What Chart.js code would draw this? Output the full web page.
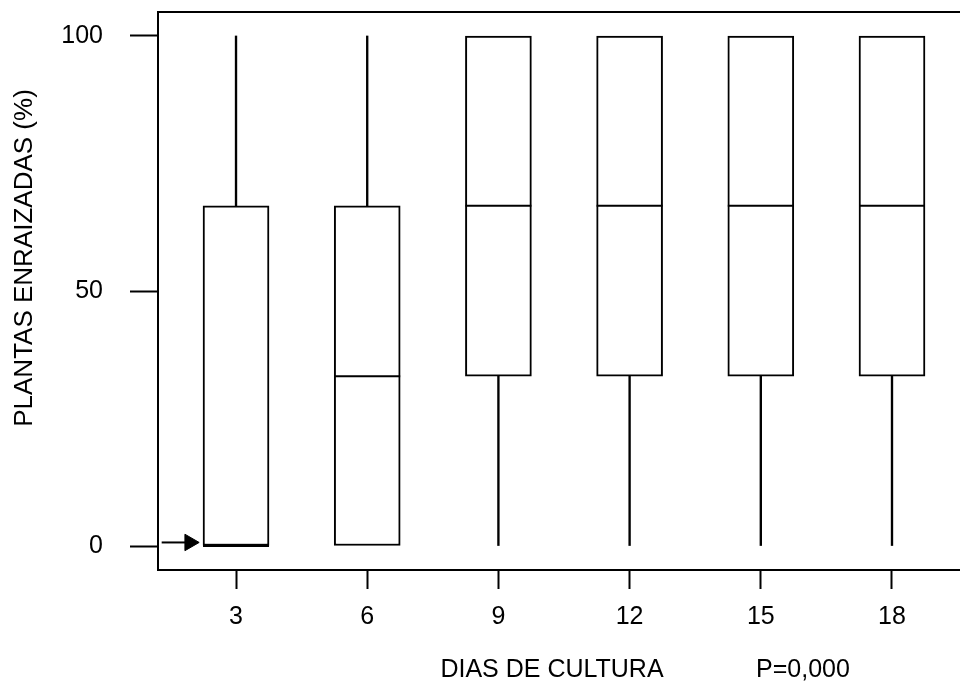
<!DOCTYPE html>
<html>
<head>
<meta charset="utf-8">
<script src="https://cdn.jsdelivr.net/npm/chart.js@4/dist/chart.umd.min.js"></script>
<style>
  body { margin: 0; background: #fff; }
  #wrap { width: 960px; height: 684px; }
</style>
</head>
<body>
<div id="wrap"><canvas id="chart"></canvas></div>
<script>
// box plot values
const days = [3, 6, 9, 12, 15, 18]
const minVals = [0, 0, 0, 0, 0, 0]
const q1Vals = [0, 0, 33.3, 33.3, 33.3, 33.3]
const medianVals = [0, 33.3, 66.7, 66.7, 66.7, 66.7]
const q3Vals = [66.7, 66.7, 100, 100, 100, 100]
const maxVals = [100, 100, 100, 100, 100, 100]

const yTicks = [0, 50, 100]
const xTicks = days

// little arrow pointing at the first box median
const arrowX = [1.3, 1.94]
const arrowY = [0.7, 0.7]

const xTitle = 'DIAS DE CULTURA'
const pText = 'P=0,000'
const yTitle = 'PLANTAS ENRAIZADAS (%)'

const FONT = { family: 'Liberation Sans, Arial, sans-serif', size: 25 }
const TITLE_FONT_SIZE = 26

const boxes = days.map((d, i) => ({ x: d, y: [q1Vals[i], q3Vals[i]] }))
const upperWhiskers = days.map((d, i) => ({ x: d, y: q3Vals[i] < maxVals[i] ? [q3Vals[i], maxVals[i]] : null }))
const lowerWhiskers = days.map((d, i) => ({ x: d, y: minVals[i] < q1Vals[i] ? [minVals[i], q1Vals[i]] : null }))
const medians = days.map((d, i) => ({ x: d, y: medianVals[i] }))
const arrow = arrowX.map((x, i) => ({ x, y: arrowY[i] }))

// no label padding, so the plot area fills the canvas like the original
const noPad = scale => {
  scale.paddingTop = 0
  scale.paddingBottom = 0
  scale.paddingLeft = 0
  scale.paddingRight = 0
}

// axis titles sit off-centre in the original, so they are placed by hand
const titles = {
  id: 'titles',
  afterDraw (chart) {
    const { ctx, chartArea } = chart
    ctx.save()
    ctx.fillStyle = '#000'
    ctx.textAlign = 'center'
    ctx.textBaseline = 'middle'
    ctx.font = FONT.size + 'px ' + FONT.family
    ctx.fillText(xTitle, chartArea.left + 394, 670)
    ctx.fillText(pText, chartArea.left + 645, 670)
    ctx.font = TITLE_FONT_SIZE + 'px ' + FONT.family
    ctx.translate(25, 258)
    ctx.rotate(-Math.PI / 2)
    ctx.fillText(yTitle, 0, 0)
    ctx.restore()
  }
}

const ctx = document.getElementById('chart')
new Chart(ctx, {
  type: 'bar',
  data: {
    datasets: [
      {
        label: 'whisker up',
        data: upperWhiskers,
        backgroundColor: '#000',
        borderWidth: 0,
        barThickness: 1.7,
        grouped: false,
        order: 3,
        xAxisID: 'x',
        yAxisID: 'y'
      },
      {
        label: 'whisker down',
        data: lowerWhiskers,
        backgroundColor: '#000',
        borderWidth: 0,
        barThickness: 1.7,
        grouped: false,
        order: 3,
        xAxisID: 'x',
        yAxisID: 'y'
      },
      {
        label: 'box',
        data: boxes,
        backgroundColor: '#fff',
        borderColor: '#000',
        borderWidth: 2,
        borderSkipped: false,
        barThickness: 66,
        grouped: false,
        order: 2,
        xAxisID: 'x',
        yAxisID: 'y'
      },
      {
        label: 'median',
        type: 'line',
        data: medians,
        showLine: false,
        pointStyle: 'line',
        pointRadius: 33,
        pointBorderWidth: 2,
        pointBorderColor: '#000',
        borderColor: '#000',
        order: 1,
        xAxisID: 'x',
        yAxisID: 'y'
      },
      {
        label: 'arrow',
        type: 'line',
        data: arrow,
        borderColor: '#000',
        backgroundColor: '#000',
        borderWidth: 2,
        pointStyle: 'triangle',
        rotation: 90,
        pointRadius: [0, 9.5],
        pointBorderWidth: 1,
        order: 0,
        xAxisID: 'x',
        yAxisID: 'y'
      }
    ]
  },
  options: {
    responsive: true,
    maintainAspectRatio: false,
    animation: false,
    events: [],
    layout: { padding: 0, autoPadding: false },
    plugins: {
      legend: { display: false },
      tooltip: { enabled: false }
    },
    scales: {
      x: {
        type: 'linear',
        position: 'bottom',
        offset: false,
        min: 1.216,
        max: 19.555,
        afterBuildTicks: scale => { scale.ticks = xTicks.map(v => ({ value: v })) },
        afterFit: scale => { scale.height = 114; noPad(scale) },
        grid: {
          offset: false,
          drawOnChartArea: false,
          drawTicks: true,
          tickLength: 19,
          tickColor: '#000',
          tickWidth: 2
        },
        border: { display: true, color: '#000', width: 2 },
        ticks: { color: '#000', font: FONT, padding: 13, maxRotation: 0 }
      },
      x2: {
        type: 'linear',
        position: 'top',
        display: true,
        offset: false,
        min: 1.216,
        max: 19.555,
        afterFit: scale => { scale.height = 12; noPad(scale) },
        grid: { display: false, drawTicks: false, offset: false },
        border: { display: true, color: '#000', width: 2 },
        ticks: { display: false }
      },
      y: {
        type: 'linear',
        position: 'left',
        min: -4.7,
        max: 104.7,
        afterBuildTicks: scale => { scale.ticks = yTicks.map(v => ({ value: v })) },
        afterFit: scale => { scale.width = 158; noPad(scale) },
        grid: {
          drawOnChartArea: false,
          drawTicks: true,
          tickLength: 28,
          tickColor: '#000',
          tickWidth: 2
        },
        border: { display: true, color: '#000', width: 2 },
        ticks: { color: '#000', font: FONT, padding: 27 }
      }
    }
  },
  plugins: [titles]
})
</script>
</body>
</html>
